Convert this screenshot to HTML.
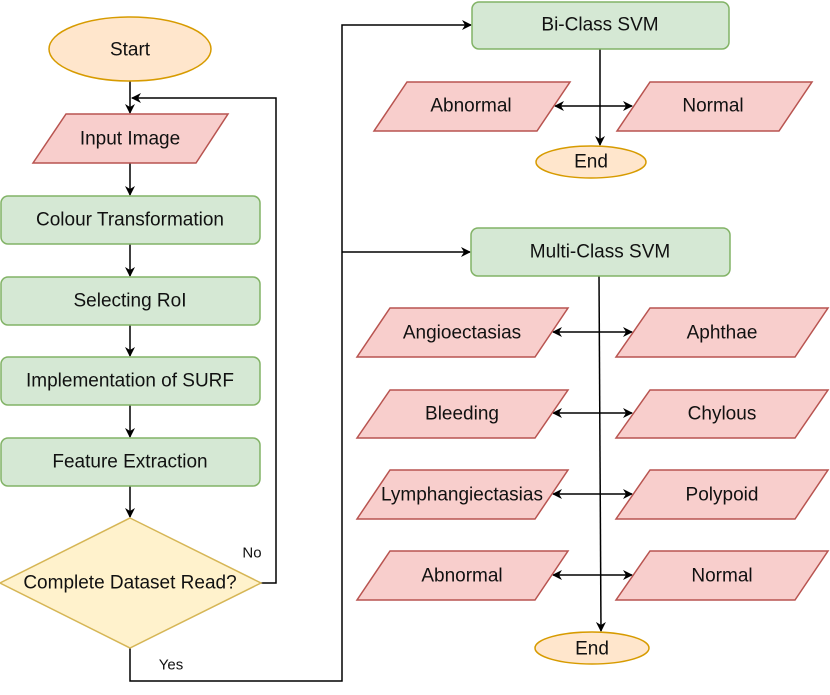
<!DOCTYPE html>
<html><head><style>body{margin:0;background:#fff}svg{display:block}text{font-family:"Liberation Sans",sans-serif;font-size:19px;fill:#111;text-anchor:middle;dominant-baseline:central}</style></head><body>
<svg width="830" height="695" viewBox="0 0 830 695">
<defs><marker id="a" viewBox="0 0 10 10" refX="9" refY="5" markerWidth="10" markerHeight="10" orient="auto-start-reverse" markerUnits="userSpaceOnUse"><path d="M0,0 L10,5 L0,10 L3,5 z" fill="#000"/></marker></defs>
<g stroke="#000" stroke-width="1.5" fill="none">
<line x1="130" y1="81" x2="130" y2="113" marker-end="url(#a)"/>
<line x1="130" y1="163" x2="130" y2="195" marker-end="url(#a)"/>
<line x1="130" y1="244" x2="130" y2="276" marker-end="url(#a)"/>
<line x1="130" y1="325" x2="130" y2="356" marker-end="url(#a)"/>
<line x1="130" y1="405" x2="130" y2="437" marker-end="url(#a)"/>
<line x1="130" y1="486" x2="130" y2="517" marker-end="url(#a)"/>
<polyline points="261,583 276,583 276,98 132,98" marker-end="url(#a)"/>
<polyline points="130,648 130,681 342,681 342,25 471,25" marker-end="url(#a)"/>
<line x1="342" y1="252" x2="470" y2="252" marker-end="url(#a)"/>
<line x1="600" y1="49" x2="600" y2="145" marker-end="url(#a)"/>
<line x1="555" y1="106" x2="632" y2="106" marker-start="url(#a)" marker-end="url(#a)"/>
<line x1="599" y1="276" x2="601" y2="631" marker-end="url(#a)"/>
<line x1="553" y1="332" x2="632" y2="332" marker-start="url(#a)" marker-end="url(#a)"/>
<line x1="553" y1="413" x2="632" y2="413" marker-start="url(#a)" marker-end="url(#a)"/>
<line x1="553" y1="494" x2="632" y2="494" marker-start="url(#a)" marker-end="url(#a)"/>
<line x1="553" y1="575" x2="632" y2="575" marker-start="url(#a)" marker-end="url(#a)"/>
</g>
<g stroke-width="1.5">
<ellipse cx="130" cy="49" rx="81" ry="32" fill="#ffe6cc" stroke="#d79b00"/>
<polygon points="66,114 228,114 196,163 33,163" fill="#f8cecc" stroke="#b85450"/>
<g fill="#d5e8d4" stroke="#82b366">
<rect x="1" y="196" width="259" height="48" rx="7"/>
<rect x="1" y="277" width="259" height="48" rx="7"/>
<rect x="1" y="357" width="259" height="48" rx="7"/>
<rect x="1" y="438" width="259" height="48" rx="7"/>
<rect x="472" y="2" width="257" height="47" rx="7"/>
<rect x="471" y="228" width="259" height="48" rx="7"/>
</g>
<polygon points="130,518 261,583 130,648 0,583" fill="#fff2cc" stroke="#d6b656"/>
<g fill="#f8cecc" stroke="#b85450">
<polygon points="407,82 570,82 537,131 374,131"/>
<polygon points="650,82 812,82 779,131 617,131"/>
<polygon points="390,308 568,308 535,357 357,357"/>
<polygon points="650,308 828,308 795,357 616,357"/>
<polygon points="390,390 568,390 535,438 357,438"/>
<polygon points="650,390 828,390 795,438 616,438"/>
<polygon points="390,470 568,470 535,519 357,519"/>
<polygon points="650,470 828,470 795,519 616,519"/>
<polygon points="390,551 568,551 535,600 357,600"/>
<polygon points="650,551 828,551 795,600 616,600"/>
</g>
<g fill="#ffe6cc" stroke="#d79b00">
<ellipse cx="591" cy="162" rx="55" ry="16"/>
<ellipse cx="592" cy="648" rx="57" ry="16"/>
</g>
</g>
<text x="130" y="50">Start</text>
<text x="130" y="139">Input Image</text>
<text x="130" y="220">Colour Transformation</text>
<text x="130" y="301">Selecting RoI</text>
<text x="130" y="381">Implementation of SURF</text>
<text x="130" y="462">Feature Extraction</text>
<text x="130" y="583">Complete Dataset Read?</text>
<text x="252" y="553" style="font-size:15px">No</text>
<text x="171" y="665" style="font-size:15px">Yes</text>
<text x="600" y="25">Bi-Class SVM</text>
<text x="471" y="106">Abnormal</text>
<text x="713" y="106">Normal</text>
<text x="591" y="162">End</text>
<text x="600" y="252">Multi-Class SVM</text>
<text x="462" y="333">Angioectasias</text>
<text x="722" y="333">Aphthae</text>
<text x="462" y="414">Bleeding</text>
<text x="722" y="414">Chylous</text>
<text x="462" y="495">Lymphangiectasias</text>
<text x="722" y="495">Polypoid</text>
<text x="462" y="576">Abnormal</text>
<text x="722" y="576">Normal</text>
<text x="592" y="649">End</text>
</svg>
</body></html>
